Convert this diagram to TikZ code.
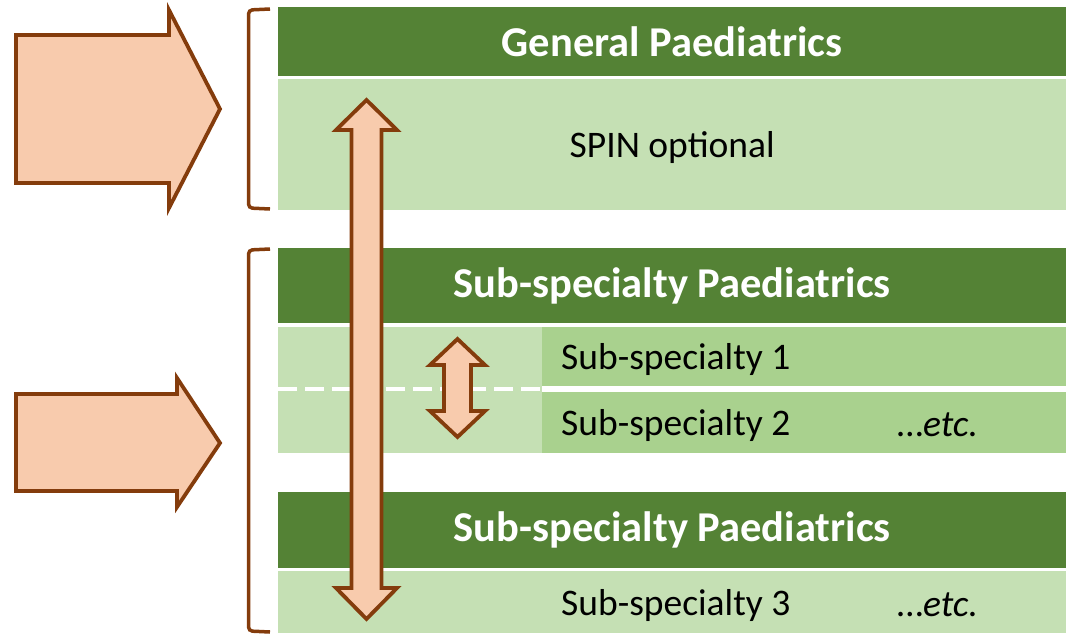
\documentclass[tikz,border=0pt]{standalone}
\usepackage{fontspec}
\setmainfont{Carlito}
\usetikzlibrary{positioning}
\definecolor{headgreen}{HTML}{548235}
\definecolor{palegreen}{HTML}{C5E0B4}
\definecolor{midgreen}{HTML}{A9D18E}
\definecolor{arrowfill}{HTML}{F8CBAD}
\definecolor{arrowedge}{HTML}{843C0C}

\begin{document}
\begin{tikzpicture}[x=1pt, y=-1pt, every node/.style={inner sep=0pt, font=\fontsize{37.5}{40}\selectfont},
    header/.style={fill=headgreen, text=white, font=\fontsize{42.5}{45}\selectfont\bfseries, minimum width=788pt, anchor=north west},
    band/.style={fill=palegreen, anchor=north west},
    subband/.style={fill=midgreen, anchor=north west, minimum width=524pt},
    bigarrow/.style={draw=arrowedge, fill=arrowfill, line width=3.8pt, line join=miter},
    bracket/.style={draw=arrowedge, line width=3.5pt, rounded corners=4pt}]

    \useasboundingbox (0,0) rectangle (1066,635);

    % green bars
    \node[header, minimum height=69pt] (gp) at (278,7) {General Paediatrics};
    \node[band, minimum width=788pt, minimum height=131pt, text depth=-6pt] (spin) at (278,79) {SPIN optional};

    \node[header, minimum height=75pt] (subhead1) at (278,248) {Sub-specialty Paediatrics};
    \node[band, minimum width=264pt, minimum height=126pt] (subleft) at (278,327) {};
    \node[subband, minimum height=59pt] (subone) at (542,327) {};
    \node[subband, minimum height=61pt] (subtwo) at (542,392) {};

    \node[header, minimum height=76pt] (subhead2) at (278,492) {Sub-specialty Paediatrics};
    \node[band, minimum width=788pt, minimum height=62pt] (subthree) at (278,571) {};

    \draw[white, line width=4.5pt, dash pattern=on 19pt off 8pt] (subleft.west |- 0,389) -- (subleft.east |- 0,389);

    % row labels
    \node[anchor=west] (lab1) at (561,359) {Sub-specialty 1};
    \node[anchor=west] (lab2) at (561,425) {Sub-specialty 2};
    \node[anchor=west] (etc2) at (897,425) {\dots\textit{etc.}};
    \node[anchor=west] (lab3) at (561,605) {Sub-specialty 3};
    \node[anchor=west] (etc3) at (897,605) {\dots\textit{etc.}};

    % block arrows
    \draw[bigarrow] (16,35) -- (169,35) -- (169,10) -- (220,109) -- (169,208) -- (169,183) -- (16,183) -- cycle;
    \draw[bigarrow] (16,394) -- (177,394) -- (177,378) -- (220,443) -- (177,507) -- (177,491) -- (16,491) -- cycle;

    \draw[bigarrow] (366.5,100) -- (397,130) -- (381.5,130) -- (381.5,588) -- (397,588) -- (366.5,619)
        -- (336,588) -- (351.5,588) -- (351.5,130) -- (336,130) -- cycle;
    \draw[bigarrow] (457.5,339) -- (485,365) -- (471,365) -- (471,411) -- (485,411) -- (457.5,437)
        -- (430,411) -- (444,411) -- (444,365) -- (430,365) -- cycle;

    % brackets
    \draw[bracket] (270,9) -- (248.5,10) -- (248.5,208) -- (270,209);
    \draw[bracket] (270,249) -- (248.5,250) -- (248.5,631) -- (270,632);
\end{tikzpicture}
\end{document}
